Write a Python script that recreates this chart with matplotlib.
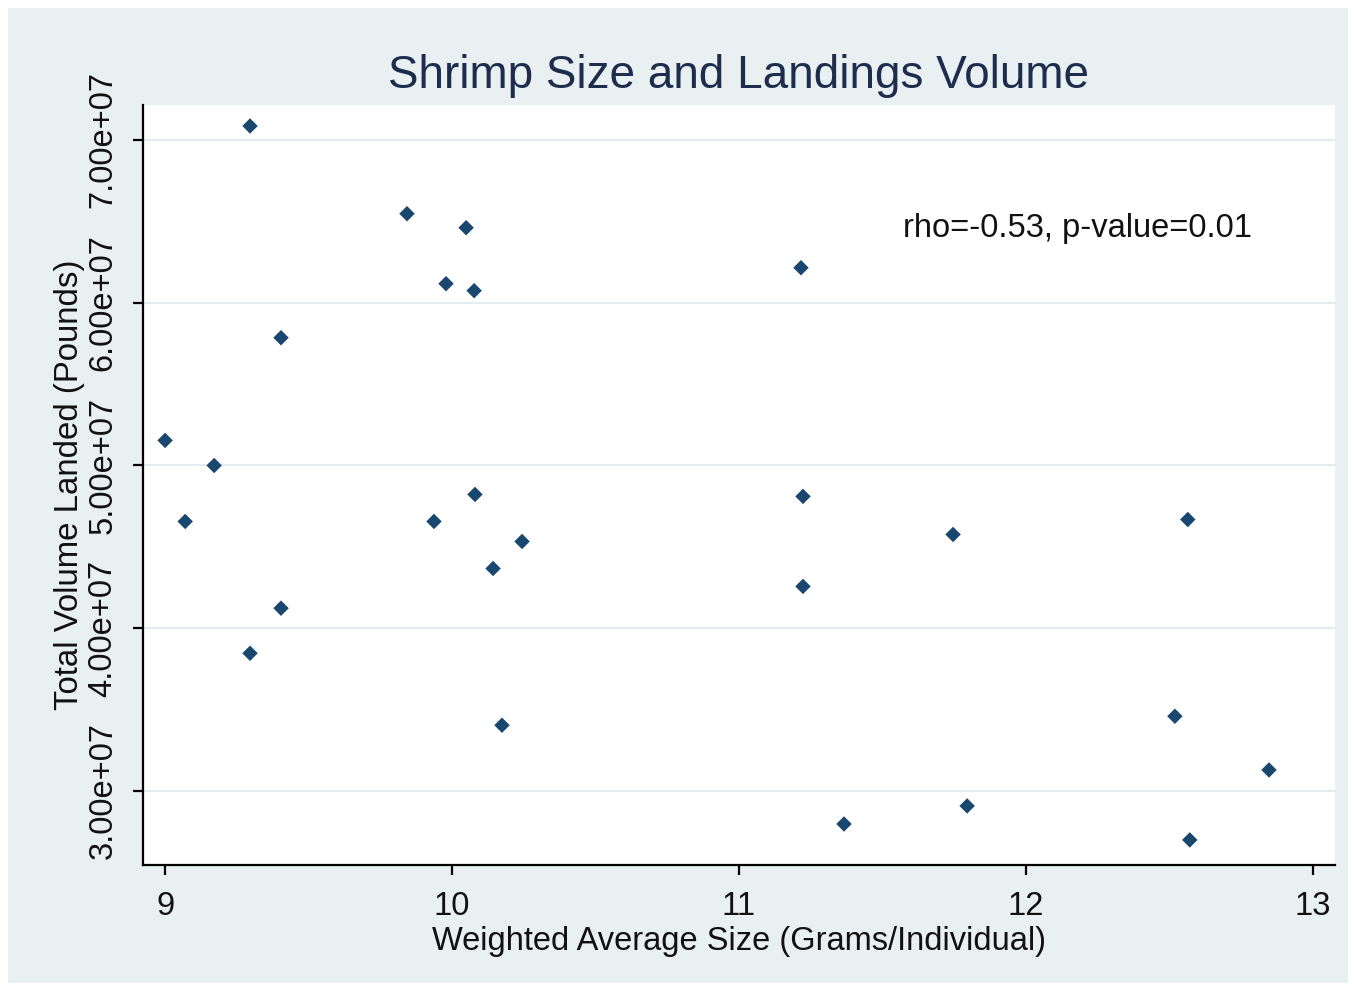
import numpy as np
import matplotlib.pyplot as plt
from matplotlib.patches import Rectangle

plt.rcParams['font.family'] = ['Liberation Sans', 'DejaVu Sans']

# weighted average size (grams/individual) and total landings (pounds)
size_g = [9.296, 9.843, 10.049, 9.979, 10.077, 11.216, 9.404, 9.0, 9.171,
          9.070, 10.080, 9.937, 10.244, 10.143, 11.223, 11.223, 11.746,
          12.564, 9.404, 9.296, 10.174, 12.519, 12.847, 11.795, 11.366, 12.571]
volume_lb = [7.086e7, 6.547e7, 6.461e7, 6.117e7, 6.074e7, 6.215e7, 5.785e7,
             5.154e7, 5.0e7, 4.656e7, 4.822e7, 4.656e7, 4.533e7, 4.367e7,
             4.810e7, 4.257e7, 4.576e7, 4.668e7, 4.123e7, 3.846e7, 3.404e7,
             3.459e7, 3.129e7, 2.908e7, 2.797e7, 2.699e7]
x_ticks = [9, 10, 11, 12, 13]
y_ticks = [3e7, 4e7, 5e7, 6e7, 7e7]
y_labels = ['3.00e+07', '4.00e+07', '5.00e+07', '6.00e+07', '7.00e+07']

fig = plt.figure(figsize=(13.56, 9.91), dpi=100)
fig.patch.set_facecolor('white')
# light Stata-style background panel behind the axes
fig.patches.append(Rectangle((8 / 1356, 8 / 991), 1340 / 1356, 975 / 991,
                             transform=fig.transFigure, facecolor='#e8f0f2',
                             edgecolor='none', zorder=-5))

ax = fig.add_axes([143 / 1356, 1 - 865 / 991, 1192 / 1356, 760 / 991])
ax.set_facecolor('white')
ax.scatter(size_g, volume_lb, marker='D', s=62, color='#1a476f', zorder=3,
           edgecolors='none')

ax.set_xlim(8.923, 13.077)
ax.set_ylim(2.545e7, 7.215e7)
ax.set_xticks(x_ticks)
ax.set_xticklabels([str(t) for t in x_ticks])
ax.set_yticks(y_ticks)
ax.set_yticklabels(y_labels, rotation=90, va='center')

ax.grid(axis='y', color='#e3edf0', linewidth=1.5, zorder=1)
ax.set_axisbelow(True)
for side in ['top', 'right']:
    ax.spines[side].set_visible(False)
for side in ['left', 'bottom']:
    ax.spines[side].set_linewidth(1.6)
    ax.spines[side].set_color('black')
ax.tick_params(direction='out', length=7.5, width=1.6, labelsize=23.5,
               labelcolor='#111111')
ax.tick_params(axis='x', pad=11)
ax.tick_params(axis='y', pad=10)

ax.set_xlabel('Weighted Average Size (Grams/Individual)', fontsize=23.5,
              color='#111111', labelpad=3)
ax.set_ylabel('Total Volume Landed (Pounds)', fontsize=23.8, color='#111111',
              labelpad=2)
ax.set_title('Shrimp Size and Landings Volume', fontsize=33, color='#1e2d4d',
             pad=12)

ax.text(11.571, 6.455e7, 'rho=-0.53, p-value=0.01', fontsize=23.5,
        color='#111111', va='center', ha='left')

fig.savefig('out.png', dpi=100, facecolor=fig.get_facecolor())
